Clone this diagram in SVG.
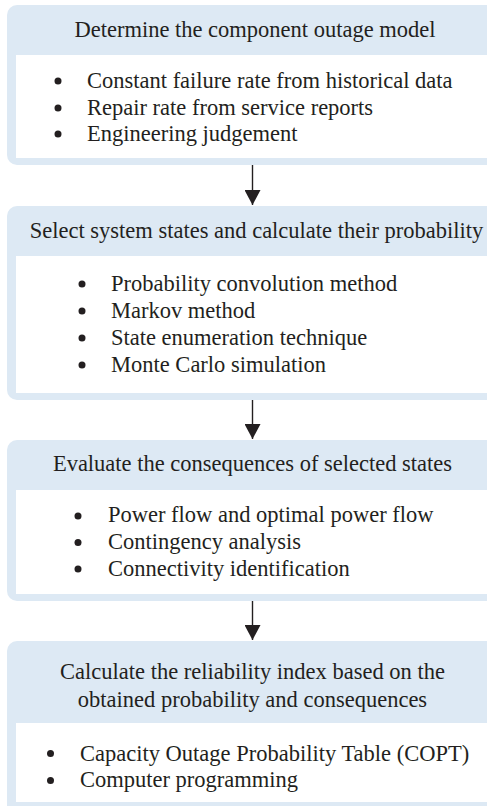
<svg xmlns="http://www.w3.org/2000/svg" width="487" height="806" viewBox="0 0 487 806">
  <defs>
    <marker id="arrowhead" viewBox="0 0 15 16" refX="15" refY="8" markerWidth="15" markerHeight="16" markerUnits="userSpaceOnUse" orient="auto">
      <path d="M0,0 L15,8 L0,16 Z" fill="#231f20"/>
    </marker>
  </defs>
  <style>
    .frame { fill: #dde9f4; }
    .body { fill: #ffffff; }
    text { font-family: 'Liberation Serif', 'DejaVu Serif', serif; font-size: 22.5px; fill: #231f20; }
    .head { text-anchor: middle; }
    .dot { fill: #231f20; }
    .link { stroke: #231f20; stroke-width: 1.4; fill: none; marker-end: url(#arrowhead); }
  </style>
  <rect width="487" height="806" fill="#ffffff"/>

  <!-- Step 1: outage model -->
  <g id="step-outage-model">
    <rect class="frame" x="7" y="5" width="500" height="160" rx="10"/>
    <rect class="body" x="16" y="55" width="490" height="103"/>
    <text class="head" x="255" y="37">Determine the component outage model</text>
    <circle class="dot" cx="58" cy="81" r="3.5"/>
    <text class="item" x="87" y="88">Constant failure rate from historical data</text>
    <circle class="dot" cx="58" cy="108" r="3.5"/>
    <text class="item" x="87" y="114.5">Repair rate from service reports</text>
    <circle class="dot" cx="58" cy="134" r="3.5"/>
    <text class="item" x="87" y="141">Engineering judgement</text>
  </g>

  <!-- Step 2: system states -->
  <g id="step-system-states">
    <rect class="frame" x="7" y="206" width="500" height="194" rx="10"/>
    <rect class="body" x="16" y="256" width="490" height="137"/>
    <text class="head" x="256.5" y="238.3">Select system states and calculate their probability</text>
    <circle class="dot" cx="82" cy="284" r="3.5"/>
    <text class="item" x="111" y="290.7">Probability convolution method</text>
    <circle class="dot" cx="82" cy="311" r="3.5"/>
    <text class="item" x="111" y="317.7">Markov method</text>
    <circle class="dot" cx="82" cy="338" r="3.5"/>
    <text class="item" x="111" y="345">State enumeration technique</text>
    <circle class="dot" cx="82" cy="365" r="3.5"/>
    <text class="item" x="111" y="371.7">Monte Carlo simulation</text>
  </g>

  <!-- Step 3: consequences -->
  <g id="step-consequences">
    <rect class="frame" x="7" y="440" width="500" height="161" rx="10"/>
    <rect class="body" x="16" y="490" width="490" height="104"/>
    <text class="head" x="252.5" y="471">Evaluate the consequences of selected states</text>
    <circle class="dot" cx="78" cy="516" r="3.5"/>
    <text class="item" x="108" y="522.3">Power flow and optimal power flow</text>
    <circle class="dot" cx="78" cy="542.5" r="3.5"/>
    <text class="item" x="108" y="549">Contingency analysis</text>
    <circle class="dot" cx="78" cy="569" r="3.5"/>
    <text class="item" x="108" y="575.7">Connectivity identification</text>
  </g>

  <!-- Step 4: reliability index -->
  <g id="step-reliability-index">
    <rect class="frame" x="7" y="641" width="500" height="175" rx="10"/>
    <rect class="body" x="16" y="723" width="490" height="79"/>
    <text class="head" x="252.5" y="679.3">Calculate the reliability index based on the</text>
    <text class="head" x="252.5" y="707.3">obtained probability and consequences</text>
    <circle class="dot" cx="50.5" cy="753.5" r="3.5"/>
    <text class="item" x="80" y="761">Capacity Outage Probability Table (COPT)</text>
    <circle class="dot" cx="50.5" cy="780.5" r="3.5"/>
    <text class="item" x="80" y="786.7">Computer programming</text>
  </g>

  <!-- Connectors -->
  <g id="connectors">
    <line class="link" x1="252.5" y1="165" x2="252.5" y2="205"/>
    <line class="link" x1="252.5" y1="400" x2="252.5" y2="439"/>
    <line class="link" x1="252.5" y1="601" x2="252.5" y2="640"/>
  </g>
</svg>
